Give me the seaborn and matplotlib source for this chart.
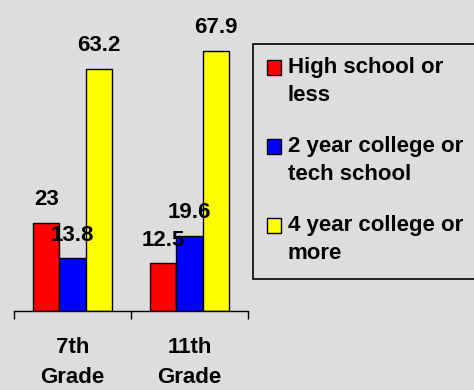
import numpy as np
import pandas as pd
import matplotlib
matplotlib.use("Agg")
import matplotlib.pyplot as plt
import matplotlib.transforms as mtransforms
from matplotlib.patches import Patch, Rectangle
import seaborn as sns

# ---- data ----
grades = ["7th\nGrade", "11th\nGrade"]
series = ["High school or\nless", "2 year college or\ntech school", "4 year college or\nmore"]
high_school = [23, 12.5]
two_year = [13.8, 19.6]
four_year = [63.2, 67.9]
colors = ["#ff0000", "#0000ff", "#ffff00"]

sns.set_theme(style="white")
plt.rcParams["font.family"] = ["Liberation Sans", "DejaVu Sans"]
plt.rcParams["font.weight"] = "bold"
plt.rcParams["text.color"] = "black"
plt.rcParams["xtick.color"] = "black"
plt.rcParams["xtick.labelcolor"] = "black"

df = pd.DataFrame({
    "grade": grades * 3,
    "series": [s for s in series for _ in grades],
    "value": high_school + two_year + four_year,
})

bg = "#dddddd"
W, H = 474, 390
fig = plt.figure(figsize=(W / 100, H / 100), dpi=100, facecolor=bg)
ax = fig.add_axes([14 / W, 1 - 311 / H, 234 / W, 80 * 3.83 / H])
ax.set_facecolor(bg)

sns.barplot(data=df, x="grade", y="value", hue="series", order=grades,
            hue_order=series, palette=colors, saturation=1, width=0.667,
            edgecolor="black", linewidth=1.0, ax=ax, legend=False)

ax.set_ylim(0, 80)
ax.set_xlim(-0.5, 1.5)
ax.set_xlabel("")
ax.set_ylabel("")
ax.set_yticks([])
for s in ["left", "right", "top"]:
    ax.spines[s].set_visible(False)
ax.spines["bottom"].set_color("black")
ax.spines["bottom"].set_linewidth(1.0)

ax.set_xticks([-0.5, 0.5, 1.5])
ax.set_xticklabels([])
ax.tick_params(axis="x", which="major", length=5.5, width=1.0, color="black", direction="out", bottom=True)
ax.set_xticks([0, 1], minor=True)
ax.set_xticklabels(grades, minor=True, fontsize=16, fontweight="bold", linespacing=1.55, color="black")
ax.tick_params(axis="x", which="minor", length=0, pad=19, bottom=True)

# value labels
label_dx = [[-3, -9.5], [8.5, 10], [-1, -1.5]]
for ci, cont in enumerate(ax.containers):
    texts = ax.bar_label(cont, labels=[f"{v:g}" for v in cont.datavalues],
                         padding=9, fontsize=16, fontweight="bold", color="black")
    for ti, t in enumerate(texts):
        t.set_transform(t.get_transform() + mtransforms.ScaledTranslation(label_dx[ci][ti] / 100, 0, fig.dpi_scale_trans))

# legend frame (drawn separately so it can run off the right edge)
fig.patches.append(Rectangle((253 / W, 1 - 279 / H), 240 / W, (279 - 44) / H,
                             transform=fig.transFigure, facecolor=bg,
                             edgecolor="black", linewidth=1.2, zorder=0))

handles = [Patch(facecolor=c, edgecolor="black", linewidth=1.0) for c in colors]
leg = fig.legend(handles, series, loc="upper left",
                 bbox_to_anchor=(267 / W, 1 - 57.5 / H),
                 frameon=False, fontsize=16, handlelength=0.65, handleheight=0.65,
                 handletextpad=0.28, borderpad=0, labelspacing=1.39,
                 borderaxespad=0)
for t in leg.get_texts():
    t.set_linespacing(1.38)
    t.set_fontweight("bold")
    t.set_color("black")
for h in leg.legend_handles:
    h.set_y(h.get_y() + 10.0)

fig.savefig("out.png", dpi=100, facecolor=bg)
